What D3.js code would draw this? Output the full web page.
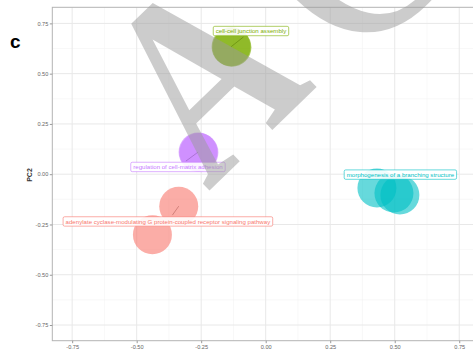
<!DOCTYPE html>
<html>
<head>
<meta charset="utf-8">
<script src="https://cdn.jsdelivr.net/npm/d3@7"></script>
<style>
  html, body { margin: 0; padding: 0; background: #fff; }
  svg { display: block; }
</style>
</head>
<body>
<svg id="chart" width="473" height="352"></svg>
<script>
// GO-term clusters on the first two principal components
const groups = ["adenylate", "cellJunction", "branching", "cellMatrix"];
const groupColors = ["#F8766D", "#7CAE00", "#00BFC4", "#C77CFF"];

// individual terms (PC1, PC2) and the cluster each belongs to
const pointGroup = ["cellJunction", "cellJunction", "cellMatrix", "cellMatrix",
                    "adenylate", "adenylate", "branching", "branching", "branching"];
const pointPC1 = [-0.134, -0.131, -0.262, -0.259, -0.337, -0.439, 0.431, 0.497, 0.520];
const pointPC2 = [0.634, 0.631, 0.110, 0.108, -0.159, -0.301, -0.069, -0.094, -0.103];

// one repelled label per cluster, placed at (PC1, PC2), linked to a term
const labelText = [
  "cell-cell junction assembly",
  "regulation of cell-matrix adhesion",
  "adenylate cyclase-modulating G protein-coupled receptor signaling pathway",
  "morphogenesis of a branching structure"
];
const labelGroup = ["cellJunction", "cellMatrix", "adenylate", "branching"];
const labelPC1 = [-0.057, -0.340, -0.379, 0.522];
const labelPC2 = [0.712, 0.036, -0.235, -0.002];
const labelPoint = [0, 2, 4, -1];

const tickValues = [-0.75, -0.5, -0.25, 0, 0.25, 0.5, 0.75];
const tickLabels = ["-0.75", "-0.50", "-0.25", "0.00", "0.25", "0.50", "0.75"];
const minorValues = [-0.625, -0.375, -0.125, 0.125, 0.375, 0.625];

const svg = d3.select("#chart");
const panel = { left: 52.3, right: 479.1, top: 7.3, bottom: 340.7 };
const x = d3.scaleLinear().domain([-0.827, 0.827]).range([panel.left, panel.right]);
const y = d3.scaleLinear().domain([-0.828, 0.830]).range([panel.bottom, panel.top]);
const color = d3.scaleOrdinal().domain(groups).range(groupColors);

// grid
const grid = svg.append("g");
grid.selectAll("line.minx").data(minorValues).join("line")
  .attr("x1", d => x(d)).attr("x2", d => x(d))
  .attr("y1", panel.top).attr("y2", panel.bottom)
  .attr("stroke", "#f3f3f3").attr("stroke-width", 0.6);
grid.selectAll("line.miny").data(minorValues).join("line")
  .attr("y1", d => y(d)).attr("y2", d => y(d))
  .attr("x1", panel.left).attr("x2", panel.right)
  .attr("stroke", "#f3f3f3").attr("stroke-width", 0.6);
grid.selectAll("line.majx").data(tickValues).join("line")
  .attr("x1", d => x(d)).attr("x2", d => x(d))
  .attr("y1", panel.top).attr("y2", panel.bottom)
  .attr("stroke", "#e8e8e8").attr("stroke-width", 1);
grid.selectAll("line.majy").data(tickValues).join("line")
  .attr("y1", d => y(d)).attr("y2", d => y(d))
  .attr("x1", panel.left).attr("x2", panel.right)
  .attr("stroke", "#e8e8e8").attr("stroke-width", 1);

// panel border
svg.append("rect")
  .attr("x", panel.left).attr("y", panel.top)
  .attr("width", panel.right - panel.left).attr("height", panel.bottom - panel.top)
  .attr("fill", "none").attr("stroke", "#b3b3b3").attr("stroke-width", 1);

// axes
const fmt = (d) => tickLabels[tickValues.indexOf(d)];
const xAxis = svg.append("g").attr("transform", `translate(0,${panel.bottom})`)
  .call(d3.axisBottom(x).tickValues(tickValues).tickFormat(fmt).tickSize(2.5).tickPadding(1.5));
const yAxis = svg.append("g").attr("transform", `translate(${panel.left},0)`)
  .call(d3.axisLeft(y).tickValues(tickValues).tickFormat(fmt).tickSize(2.5).tickPadding(1.5));
[xAxis, yAxis].forEach(a => {
  a.select(".domain").remove();
  a.selectAll(".tick line").attr("stroke", "#999");
  a.selectAll(".tick text").attr("fill", "#666")
    .style("font-family", "Liberation Sans, Arial, sans-serif").style("font-size", "5.6px");
});

// points
const points = pointPC1.map((d, i) => ({ pc1: d, pc2: pointPC2[i], group: pointGroup[i] }));
svg.append("g").selectAll("circle").data(points).join("circle")
  .attr("cx", d => x(d.pc1)).attr("cy", d => y(d.pc2))
  .attr("r", 19.5)
  .attr("fill", d => color(d.group))
  .attr("fill-opacity", 0.6);

// labels with leader segments pointing from the term toward its label
const labels = labelText.map((t, i) => ({
  text: t, group: labelGroup[i], pc1: labelPC1[i], pc2: labelPC2[i], point: labelPoint[i]
}));
const lg = svg.append("g");
const boxH = 9.4, padX = 2.5, gap = 2;
labels.forEach(l => {
  const cx = x(l.pc1), cy = y(l.pc2);
  const c = color(l.group);
  const t = lg.append("text")
    .attr("x", cx).attr("y", cy + 2.1)
    .attr("text-anchor", "middle")
    .style("font-family", "Liberation Sans, Arial, sans-serif")
    .style("font-size", "6.1px")
    .attr("fill", c)
    .text(l.text);
  const w = t.node().getComputedTextLength() + 2 * padX;
  if (l.point >= 0) {
    const p = points[l.point];
    const px = x(p.pc1), py = y(p.pc2);
    const dx = cx - px, dy = cy - py;
    // distance along the direction until the box edge, less a small gap
    const tx = dx !== 0 ? (Math.abs(dx) - w / 2) / Math.abs(dx) : Infinity;
    const ty = dy !== 0 ? (Math.abs(dy) - boxH / 2) / Math.abs(dy) : Infinity;
    const tEdge = Math.max(0, Math.max(tx < 0 ? -Infinity : tx, ty < 0 ? -Infinity : ty));
    const len = Math.hypot(dx, dy);
    const f = Math.max(0, tEdge - gap / len);
    lg.insert("line", "text")
      .attr("x1", px).attr("y1", py).attr("x2", px + dx * f).attr("y2", py + dy * f)
      .attr("stroke", d3.color(c).darker(1.2)).attr("stroke-width", 0.6)
      .attr("stroke-opacity", 0.8);
  }
  lg.insert("rect", "text")
    .attr("x", cx - w / 2).attr("y", cy - boxH / 2)
    .attr("width", w).attr("height", boxH)
    .attr("rx", 1.5)
    .attr("fill", "#fff").attr("fill-opacity", 0.9)
    .attr("stroke", c).attr("stroke-width", 0.6);
});

// axis title and panel tag
svg.append("text")
  .attr("transform", `translate(31.5,175) rotate(-90)`)
  .attr("text-anchor", "middle")
  .style("font-family", "Liberation Sans, Arial, sans-serif")
  .style("font-size", "7px").style("font-weight", "bold")
  .attr("fill", "#333")
  .text("PC2");
svg.append("text")
  .attr("x", 10).attr("y", 48)
  .style("font-family", "Liberation Sans, Arial, sans-serif")
  .style("font-size", "19px").style("font-weight", "bold")
  .attr("fill", "#000")
  .text("c");

// translucent serif watermark
const wm = svg.append("g").attr("fill", "#999").attr("fill-opacity", 0.5)
  .style("font-family", "Liberation Serif, Times New Roman, serif");
wm.append("text")
  .attr("transform", "translate(208,192) rotate(-44) scale(0.8,1)")
  .style("font-size", "264px").style("font-weight", "bold")
  .text("A");
wm.append("text")
  .attr("transform", "translate(352,73) rotate(-44) scale(0.85,1)")
  .style("font-size", "310px")
  .text("C");
</script>
</body>
</html>
